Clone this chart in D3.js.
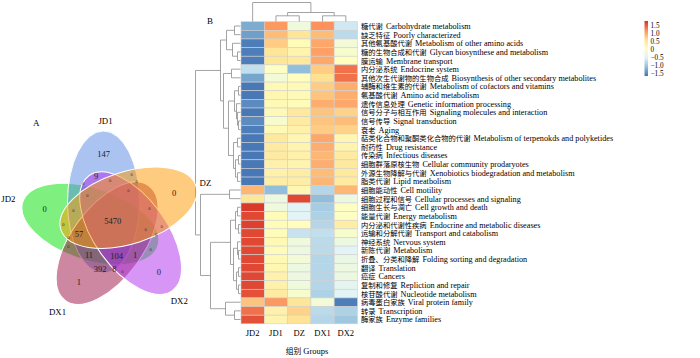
<!DOCTYPE html>
<html><head><meta charset="utf-8">
<script src="https://cdn.jsdelivr.net/npm/d3@7"></script>
<style>
body{margin:0;background:#fff}
text{font-family:"Liberation Serif","Times New Roman",serif;fill:#000}
</style>
</head><body>
<svg id="c" width="700" height="358"></svg>
<script>
// ---------------- DATA ----------------
const groups = ["JD2","JD1","DZ","DX1","DX2"];
const pathwaysCN = ["糖代谢","缺乏特征","其他氨基酸代谢","糖的生物合成和代谢","膜运输","内分泌系统","其他次生代谢物的生物合成","辅酶和维生素的代谢","氨基酸代谢","遗传信息处理","信号分子与相互作用","信号传导","衰老","萜类化合物和聚酮类化合物的代谢","耐药性","传染病","细胞群落原核生物","外源生物降解与代谢","脂类代谢","细胞能动性","细胞过程和信号","细胞生长与凋亡","能量代谢","内分泌和代谢性疾病","运输和分解代谢","神经系统","新陈代谢","折叠、分类和降解","翻译","癌症","复制和修复","核苷酸代谢","病毒蛋白家族","转录","酶家族"];
const pathwaysEN = ["Carbohydrate metabolism","Poorly characterized","Metabolism of other amino acids","Glycan biosynthese and metabolism","Membrane transport","Endocrine system","Biosynthesis of other secondary metabolites","Metabolism of cofactors and vitamins","Amino acid metabolism","Genetic information processing","Signaling molecules and interaction","Signal transduction","Aging","Metabolism of terpenokds and polyketides","Drug resistance","Infectious diseases","Cellular community prodaryotes","Xenobiotics biodegradation and metabolism","Lipid meatbolism","Cell motility","Cellular processes and signaling","Cell growth and death","Energy metabolism","Endocrine and metabolic diseases","Transport and catabolism","Nervous system","Metabolism","Folding sorting and degradation","Translation","Cancers","Repliction and repair","Nucleotide metabolism","Viral protein family","Transcription","Enzyme families"];
// row z-scores per group
const zJD2 = [-1.25,-1.35,-1.6,-1.6,-1.6,-0.75,-1.3,-1.65,-1.65,-1.5,-1.65,-1.5,-1.6,-1.65,-1.65,-1.65,-1.65,-1.65,-1.65,0.9,0.5,1.7,1.6,1.65,1.6,1.6,1.6,1.6,1.6,1.6,1.6,1.55,0.8,1.35,1.55];
const zJD1 = [1.1,0.85,0.75,0.5,0.5,0.0,-0.2,0.15,0.2,0.15,0.15,-0.1,0.15,0.45,0.4,0.4,0.3,0.3,0.35,-1.1,-0.3,-0.25,0.1,0.1,0.1,0.15,0.1,0.15,0.2,0.3,0.3,0.4,1.1,0.3,0.25];
const zDZ  = [-0.25,0.5,0.1,0.25,0.45,-1.1,0.05,0.15,0.15,0.1,0.45,0.4,0.3,0.2,0.25,0.3,0.25,0.35,0.35,0.2,1.6,-0.5,-0.5,0.05,-0.7,-0.25,-0.3,-0.2,-0.3,-0.3,-0.25,-0.1,0.5,0.7,0.55];
const zDX1 = [1.15,0.85,1.0,1.05,1.0,0.75,0.6,0.75,0.8,0.95,0.8,0.8,0.75,1.0,0.95,0.9,0.95,0.85,0.9,-0.85,-1.1,-0.95,-0.9,-0.85,-0.75,-0.8,-0.8,-0.85,-0.85,-0.85,-0.85,-0.9,-0.2,-0.8,-0.85];
const zDX2 = [-0.65,-0.8,-0.2,-0.1,0.05,1.35,1.35,0.95,0.95,1.0,0.7,0.85,0.7,0.2,0.25,0.4,0.45,0.45,0.4,0.9,-0.3,0.0,0.0,0.35,-0.1,-0.3,-0.5,-0.35,-0.3,-0.3,-0.45,-0.5,-1.6,-0.9,-1.0];
const legendTicks = [1.5,1.0,0.5,0,-0.5,-1.0,-1.5];
const colorRange = [-1.67,1.75];
// dendrograms: [height, left, right]; leaves are indices
const colTree = [19, 0, [9, [5.7, 1, 2], [5.7, 3, 4]]];
const rowTree = [45,
  [20,
    [14, [6, 0, 1], [8, 2, [3, 3, 4]]],
    [17, [9, 5, 6],
      [12, [6, [2, 7, 8], [4, 9, [3, 10, [2, 11, 12]]]],
           [7, [3, 13, 14], [5, [2, 15, 16], [3, 17, 18]]]]]],
  [40, [11, 19, 20],
    [30,
      [10, [5, [3, 21, 22], [2, 23, 24]], [7, [3, 25, [2, 26, 27]], [4, [2, 28, 29], [2, 30, 31]]]],
      [15, 32, [6, 33, 34]]]]];
// Venn (k = rotation step of 72°)
const vennSets = ["JD1","DZ","DX2","DX1","JD2"];
const vennColors = ["#5587e1","#ff9a00","#b02deb","#9b0f41","#00e100"];
const vennDrawOrder = [4, 0, 3, 2, 1];
const vennOnly = ["147","0","0","1","0"];
const vennCounts = ["5470","9","57","11","104","1","392","8"];
const vennCountPos = [[0.7,-1],[-16,-46],[-33,12],[-23,33],[4.7,34],[23,33],[-12,46.7],[2.3,46.7]];
const vennZeroPos = [[19.7,-48],[-2,-41.3],[24.7,-40.3],[-28.7,-38.7],[16.3,-32],[-24.7,-27],[-38.7,-12],[37.3,-13.3],[-48.7,2.3],[49.7,4],[33.7,7.3],[44,12],[-43.7,15.3],[-43.7,24.7],[38.7,27.3],[10.3,49]];

// ---------------- DRAW ----------------
const svg = d3.select("#c");
const colorStops = d3.range(7).map(i => colorRange[0] + i*(colorRange[1]-colorRange[0])/6);
const color = d3.scaleLinear().domain(colorStops)
  .range(["#4575B4","#91BFDB","#E0F3F8","#FFFFBF","#FEE090","#FC8D59","#D73027"]);

const x = d3.scaleBand().domain(d3.range(groups.length)).range([241, 357.5]);
const y = d3.scaleBand().domain(d3.range(pathwaysEN.length)).range([21.7, 323.8]);
const series = [zJD2, zJD1, zDZ, zDX1, zDX2];

const cells = [];
series.forEach((s, ci) => s.forEach((v, ri) => cells.push({ci, ri, v})));
svg.append("g").selectAll("rect").data(cells).join("rect")
  .attr("x", d => x(d.ci)).attr("y", d => y(d.ri))
  .attr("width", x.bandwidth()).attr("height", y.bandwidth())
  .attr("fill", d => color(d.v)).attr("stroke", "#d0d0d0").attr("stroke-width", 0.6);

// row labels
const rl = svg.append("g").selectAll("text").data(pathwaysEN).join("text")
  .attr("x", 361).attr("y", (d, i) => y(i) + y.bandwidth()/2 + 3)
  .style("font-size", "8.2px");
rl.append("tspan").style("font-family", "'Noto Sans CJK SC'").style("font-size", "7.3px")
  .text((d, i) => pathwaysCN[i]);
rl.append("tspan").attr("dx", 3).text(d => d);

// column labels
svg.append("g").selectAll("text").data(groups).join("text")
  .attr("x", (d, i) => x(i) + x.bandwidth()/2).attr("y", 336)
  .attr("text-anchor", "middle").style("font-size", "8.5px").text(d => d);
const gl = svg.append("text").attr("x", 307).attr("y", 354).attr("text-anchor", "middle").style("font-size", "8.5px");
gl.append("tspan").style("font-family", "'Noto Sans CJK SC'").style("font-size", "7.8px").text("组别");
gl.append("tspan").attr("dx", 2).text("Groups");

// dendrograms
function layout(node, leafPos) {
  if (!Array.isArray(node)) return {p: leafPos(node), h: 0};
  const a = layout(node[1], leafPos), b = layout(node[2], leafPos);
  return {p: (a.p + b.p)/2, h: node[0], a, b};
}
function drawTree(g, n, base, orient) {
  if (!n.a) return;
  const hp = base - n.h, ha = base - n.a.h, hb = base - n.b.h;
  let path;
  if (orient === "row") path = `M${ha},${n.a.p}H${hp}V${n.b.p}H${hb}`;
  else path = `M${n.a.p},${ha}V${hp}H${n.b.p}V${hb}`;
  g.append("path").attr("d", path).attr("fill", "none").attr("stroke", "#8c8c8c").attr("stroke-width", 0.8);
  drawTree(g, n.a, base, orient); drawTree(g, n.b, base, orient);
}
const dg = svg.append("g");
drawTree(dg, layout(colTree, i => x(i) + x.bandwidth()/2), 21.5, "col");
drawTree(dg, layout(rowTree, i => y(i) + y.bandwidth()/2), 240.5, "row");

// legend
const ly = d3.scaleLinear().domain([-1.5, 1.5]).range([73.3, 25]);
const defs = svg.append("defs");
const lg = defs.append("linearGradient").attr("id", "lg").attr("x1", 0).attr("y1", 1).attr("x2", 0).attr("y2", 0);
colorStops.forEach((s, i) => lg.append("stop").attr("offset", i/6).attr("stop-color", color(s)));
svg.append("rect").attr("x", 644.5).attr("y", ly(colorRange[1])).attr("width", 3.5)
  .attr("height", ly(colorRange[0]) - ly(colorRange[1])).attr("fill", "url(#lg)");
svg.append("g").selectAll("text").data(legendTicks).join("text")
  .attr("x", 650.5).attr("y", d => ly(d) + 2.6).style("font-size", "7.2px")
  .text(d => d === 0 ? "0" : d3.format(".1f")(d).replace("-", "\u2212"));

svg.append("text").attr("x", 207).attr("y", 24).style("font-size", "9px").text("B");
svg.append("text").attr("x", 33).attr("y", 126).style("font-size", "9px").text("A");

// Venn
const C = [112, 222], dPar = 20, dPerp = 8.5, ra = 36, rb = 71;
const vg = svg.append("g");
const geo = vennSets.map((s, k) => {
  const ang = k * 72 * Math.PI / 180;
  const u = [Math.sin(ang), -Math.cos(ang)], v = [-Math.cos(ang), -Math.sin(ang)];
  return {s, k, u, cx: C[0] + dPar*u[0] + dPerp*v[0], cy: C[1] + dPar*u[1] + dPerp*v[1]};
});
vg.selectAll("ellipse").data(vennDrawOrder.map(k => geo[k])).join("ellipse")
  .attr("cx", 0).attr("cy", 0).attr("rx", ra).attr("ry", rb)
  .attr("transform", d => `translate(${d.cx},${d.cy}) rotate(${d.k*72})`)
  .attr("fill", d => vennColors[d.k]).attr("fill-opacity", 0.5)
  .attr("stroke", "#fff").attr("stroke-width", 1);
const labOff = [[2,0],[0,0],[1,2],[-2,3],[-5,0]];
geo.forEach(d => {
  const r1 = rb - 23;
  vg.append("text").attr("x", d.cx + r1*d.u[0]).attr("y", d.cy + r1*d.u[1] + 3)
    .attr("text-anchor", "middle").style("font-size", "8.5px").style("fill", "#222").text(vennOnly[d.k]);
  const r2 = rb + 10;
  vg.append("text").attr("x", d.cx + r2*d.u[0] + labOff[d.k][0]).attr("y", d.cy + r2*d.u[1] + 3 + labOff[d.k][1])
    .attr("text-anchor", "middle").style("font-size", "8.8px").text(d.s);
});
vg.selectAll("text.cnt").data(vennCounts).join("text").attr("class", "cnt")
  .attr("x", (d, i) => C[0] + vennCountPos[i][0]).attr("y", (d, i) => C[1] + vennCountPos[i][1] + 3)
  .attr("text-anchor", "middle").style("font-size", "8.5px").style("fill", "#222").text(d => d);
vg.selectAll("text.z").data(vennZeroPos).join("text").attr("class", "z")
  .attr("x", d => C[0] + d[0]).attr("y", d => C[1] + d[1] + 1.5)
  .attr("text-anchor", "middle").style("font-size", "4.5px").style("fill", "#333").text("0");
</script>
</body></html>
